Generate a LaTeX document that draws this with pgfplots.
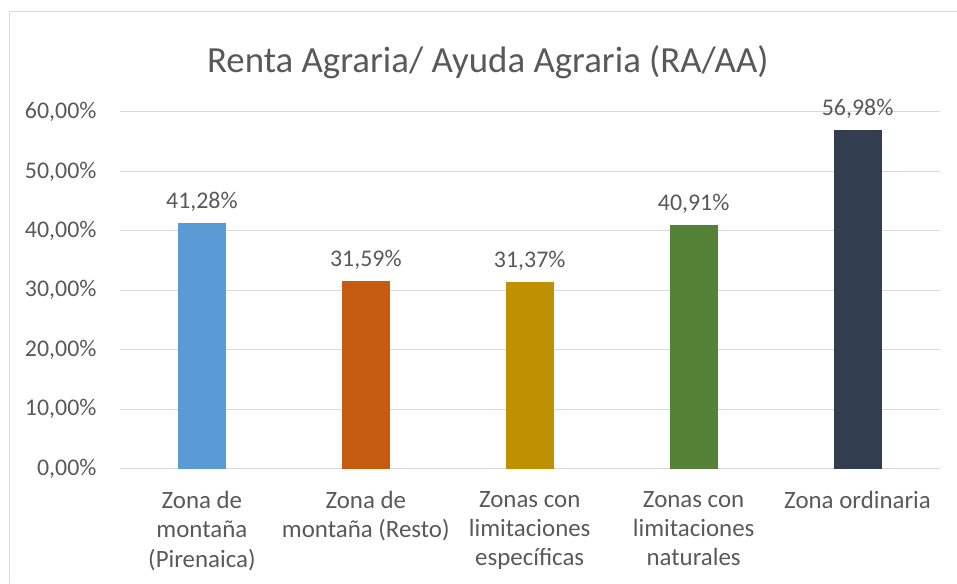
\documentclass[border=0pt]{standalone}
\usepackage{pgfplots}
\pgfplotsset{compat=1.18}
\usepackage{fontspec}
\setmainfont{Carlito}
\definecolor{txt}{HTML}{595959}
\definecolor{gridc}{HTML}{D9D9D9}
\definecolor{c1}{HTML}{5B9BD5}
\definecolor{c2}{HTML}{C55A11}
\definecolor{c3}{HTML}{BF9000}
\definecolor{c4}{HTML}{538135}
\definecolor{c5}{HTML}{333F50}
\begin{document}
\begin{tikzpicture}[x=1bp,y=1bp]
\path (0,0) rectangle (957,583);
\draw[gridc, line width=1bp] (10,0) -- (10,571) -- (957,571);
\node[font=\fontsize{37}{44}\selectfont, text=txt] at (488,521) {Renta Agraria/ Ayuda Agraria (RA/AA)};
\begin{axis}[
  at={(120bp,114bp)}, anchor=south west,
  scale only axis, width=820bp, height=357bp,
  xmin=-0.5, xmax=4.5, ymin=0, ymax=60,
  ytick={0,10,...,60},
  xtick={0,1,2,3,4},
  xticklabels={{Zona de\\montaña\\(Pirenaica)},{Zona de\\montaña (Resto)},{Zonas con\\limitaciones\\específicas},{Zonas con\\limitaciones\\naturales},{Zona ordinaria}},
  /pgf/number format/assume math mode=true,
  yticklabel={\pgfmathprintnumber[fixed,fixed zerofill,precision=2,use comma]{\tick}\%},
  yticklabel style={font=\fontsize{24}{28}\selectfont, text=txt, xshift=-20bp},
  xticklabel style={font=\fontsize{25}{29.5}\selectfont, text=txt, align=center, anchor=north, yshift=-19bp},
  major tick length=0pt,
  axis line style={draw=none},
  ymajorgrids, major grid style={draw=gridc, line width=1bp},
  ybar, bar width=48bp, bar shift=0pt,
  nodes near coords={\pgfmathprintnumber[fixed,fixed zerofill,precision=2,use comma]{\pgfplotspointmeta}\%},
  nodes near coords style={font=\fontsize{24}{28}\selectfont, text=txt, anchor=south, yshift=8bp},
]
\addplot[fill=c1, draw=none] coordinates {(0,41.28)};
\addplot[fill=c2, draw=none] coordinates {(1,31.59)};
\addplot[fill=c3, draw=none] coordinates {(2,31.37)};
\addplot[fill=c4, draw=none] coordinates {(3,40.91)};
\addplot[fill=c5, draw=none] coordinates {(4,56.98)};
\end{axis}
\end{tikzpicture}
\end{document}
